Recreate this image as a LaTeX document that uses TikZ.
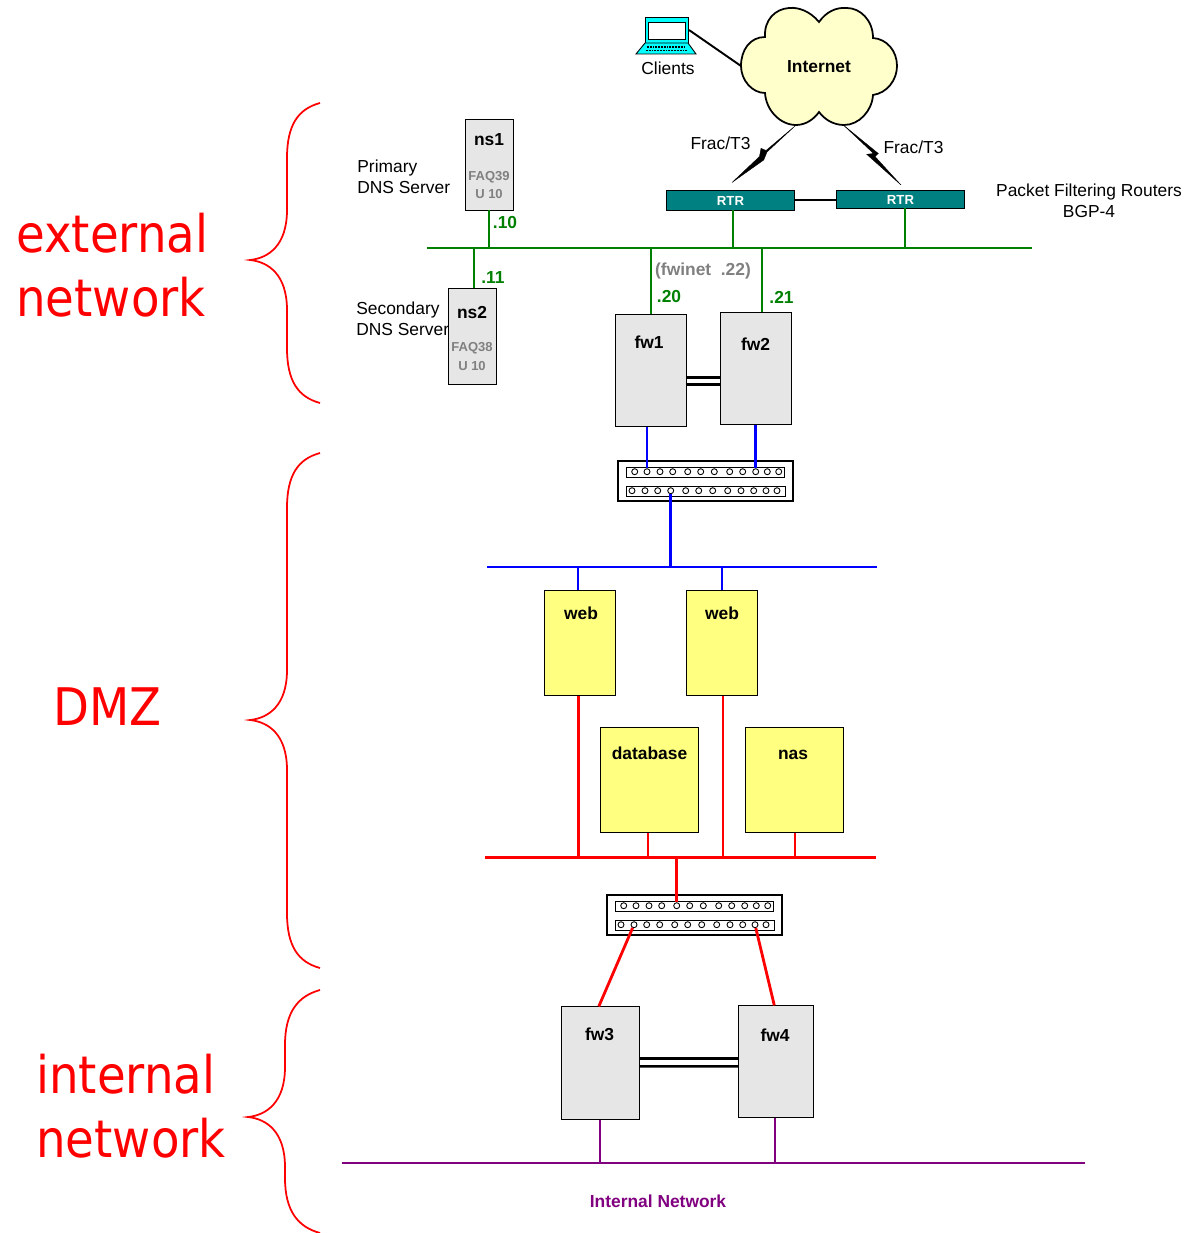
\documentclass[tikz,border=0pt]{standalone}
\usepackage{fontspec}
\setmainfont{Liberation Sans}
\newfontfamily\zonefont{DejaVu Sans Condensed}
\usetikzlibrary{calc}
\definecolor{srvgrey}{HTML}{E6E6E6}
\definecolor{hostyellow}{HTML}{FFFF80}
\definecolor{cloudyellow}{HTML}{FFFFCC}
\definecolor{rtrteal}{HTML}{008080}
\definecolor{extgreen}{HTML}{008000}
\definecolor{intpurple}{HTML}{800080}
\definecolor{laptopcyan}{HTML}{00FFFF}
\tikzset{
	txt/.style={font=\fontsize{9.9}{12}\selectfont, inner sep=0pt},
	boldtxt/.style={font=\fontsize{9.9}{12}\selectfont\bfseries, inner sep=0pt},
	greentxt/.style={boldtxt, text=extgreen},
	faqtxt/.style={font=\fontsize{7.4}{9}\selectfont\bfseries, text=black!50, inner sep=0pt},
	zonetxt/.style={font=\fontsize{29.5}{36.5}\zonefont, text=red, align=left, anchor=west, inner sep=0pt},
	srvbox/.style={draw, fill=srvgrey, line width=0.5pt, inner sep=0pt},
	hostbox/.style={draw, fill=hostyellow, line width=0.5pt, inner sep=0pt},
	rtrbox/.style={draw, fill=rtrteal, line width=0.5pt, inner sep=0pt, minimum width=2.56cm, text height=6.5pt, font=\fontsize{7.5}{9}\selectfont\bfseries, text=white},
	port/.style={circle, draw, fill=white, line width=0.5pt, inner sep=0pt, minimum size=3.4pt},
	dbllink/.style={draw=black, line width=1.4pt},
	extlink/.style={extgreen, line width=1.6pt},
	dmzlink/.style={blue, line width=1.6pt},
	srvlink/.style={red, line width=1.6pt},
	intlink/.style={intpurple, line width=1.6pt},
	brace/.style={red, line width=1pt}
}
% panel name, left and top corner
\def\patchpanel#1(#2,#3){
	\begin{scope}[shift={(#2,#3)}]
		\draw[fill=white, line width=0.6pt] (0,0) rectangle (175,40);
		\draw[fill=white, line width=0.5pt] (8,6) rectangle (166,16);
		\draw[fill=white, line width=0.5pt] (8,25) rectangle (167,35);
		\foreach \n/\x in {1/16.7,2/29,3/42,4/54.7,5/69.7,6/82.7,7/96.3,8/111.7,9/124.7,10/137.7,11/149.3,12/160.7}
			\node[port] (#1t\n) at (\x,10.7) {};
		\foreach \n/\x in {1/14,2/27,3/39.7,4/52.7,5/67.7,6/80.7,7/94.7,8/109.7,9/123,10/135.7,11/148,12/159}
			\node[port] (#1b\n) at (\x,29.7) {};
	\end{scope}
}
% tip y, top y, bottom y, spine x
\def\zonebrace(#1,#2,#3,#4){
	\draw[brace] (320,#2) .. controls (298,#2+6) and (#4,#2+22) .. (#4,#2+55)
		-- (#4,#1-50) .. controls (#4,#1-15) and (#4-18,#1-2) .. (#4-37,#1)
		.. controls (#4-18,#1+2) and (#4,#1+15) .. (#4,#1+50)
		-- (#4,#3-55) .. controls (#4,#3-22) and (298,#3-6) .. (320,#3);
}

\begin{document}
\begin{tikzpicture}[x=0.02cm, y=-0.02cm]
	%%%%% START %%%%%
	\useasboundingbox (0,0) rectangle (1186,1233);

	\zonebrace(260,103,403,287)
	\zonebrace(720,453,968,287)
	\zonebrace(1117,990,1233,285)
	\node[zonetxt] (zoneext) at (16,265) {external\\network};
	\node[zonetxt] (zonedmz) at (53,707) {DMZ};
	\node[zonetxt] (zoneint) at (36,1106) {internal\\network};

	% cloud
	\draw[fill=cloudyellow, line width=1pt] (819,22)
		.. controls (810,11) and (798,7) .. (789,8)
		.. controls (775,9) and (764,20) .. (765,37)
		.. controls (750,37) and (741,50) .. (741,66)
		.. controls (741,80) and (752,93) .. (765,93)
		.. controls (766,110) and (780,125) .. (796,125)
		.. controls (806,125) and (814,119) .. (819,112)
		.. controls (825,120) and (834,125) .. (844,125)
		.. controls (859,125) and (872,111) .. (873,95)
		.. controls (887,93) and (897,80) .. (897,66)
		.. controls (897,51) and (887,39) .. (873,38)
		.. controls (873,20) and (860,8) .. (847,8)
		.. controls (836,7) and (826,12) .. (819,22) -- cycle;
	\node[boldtxt] (internet) at (819,67) {Internet};
	\coordinate (cloudW) at (741,66);
	\coordinate (cloudSW) at (795,126);
	\coordinate (cloudSE) at (843.3,125);

	% laptop
	\draw[fill=laptopcyan, line width=0.5pt] (645,17) rectangle (688,43);
	\draw[fill=white, line width=0.5pt] (648.5,22) rectangle (685,39);
	\draw[fill=laptopcyan, line width=0.5pt] (645,43) -- (688,43) -- (696,54) -- (636,54) -- cycle;
	\draw[line width=1pt, dash pattern=on 1pt off 0.6pt] (647,47) -- (686,47);
	\draw[line width=1pt, dash pattern=on 1pt off 0.6pt] (646,50.5) -- (687,50.5);
	\coordinate (laptop) at (689,30);
	\node[txt] (clients) at (668,68) {Clients};
	\draw[line width=1.1pt] (laptop) -- (cloudW);

	% routers
	\node[rtrbox, minimum height=0.4cm] (rtr1) at (730.5,200) {RTR};
	\node[rtrbox, minimum height=0.36cm] (rtr2) at (900.5,199) {RTR};
	\draw[line width=1.1pt] (rtr1.east) -- (rtr2.west |- rtr1.east);
	\coordinate (wan1) at (732,182.5);
	\coordinate (wan2) at (901,185);
	\draw[line width=0.2pt, fill=black] (cloudSW) -- (767,152) -- (763.7,160) -- (wan1) -- (759.5,156.5) -- (761,148.3) -- (766,150.5) -- cycle;
	\draw[line width=0.2pt, fill=black] (cloudSE) -- (878.3,153.5) -- (875,156.5) -- (wan2) -- (866.7,154.3) -- (873.5,153.5) -- cycle;
	\node[txt] (frac1) at (720.5,143) {Frac/T3};
	\node[txt] (frac2) at (913.5,147) {Frac/T3};
	\node[txt, align=center] (pfr) at (1089,201) {Packet Filtering Routers\\BGP-4};

	% external segment
	\coordinate (extL) at (427,248);
	\coordinate (extR) at (1032,248);
	\draw[extlink] (extL) -- (extR);
	\coordinate (tapns2) at (474,248);
	\coordinate (tapfw1) at (651,248);
	\coordinate (tapfw2) at (762,248);
	\coordinate (taprtr1) at (733,248);
	\coordinate (taprtr2) at (905,248);

	\node[srvbox, minimum width=0.96cm, minimum height=1.82cm] (ns1) at (489,164.5) {};
	\node[boldtxt] (ns1txt) at (489,140) {ns1};
	\node[faqtxt] (ns1faq) at (489,177) {FAQ39};
	\node[faqtxt] (ns1u) at (489,194) {U 10};
	\node[srvbox, minimum width=0.96cm, minimum height=1.92cm] (ns2) at (472,336) {};
	\node[boldtxt] (ns2txt) at (472,312.5) {ns2};
	\node[faqtxt] (ns2faq) at (472,348.5) {FAQ38};
	\node[faqtxt] (ns2u) at (472,366) {U 10};
	\node[txt, align=left, anchor=west] (dns1) at (357,177) {Primary\\DNS Server};
	\node[txt, align=left, anchor=west] (dns2) at (356,318.5) {Secondary\\DNS Server};

	\node[srvbox, minimum width=1.42cm, minimum height=2.24cm] (fw1) at (651.3,370.7) {};
	\node[boldtxt] (fw1txt) at (649,342.5) {fw1};
	\node[srvbox, minimum width=1.42cm, minimum height=2.24cm] (fw2) at (755.5,368.7) {};
	\node[boldtxt] (fw2txt) at (755.5,344.5) {fw2};

	\draw[extlink] (ns1.south) -- (ns1.south |- extL);
	\draw[extlink] (tapns2) -- (tapns2 |- ns2.north);
	\draw[extlink] (tapfw1) -- (tapfw1 |- fw1.north);
	\draw[extlink] (tapfw2) -- (tapfw2 |- fw2.north);
	\draw[extlink] (taprtr1) -- (taprtr1 |- rtr1.south);
	\draw[extlink] (taprtr2) -- (taprtr2 |- rtr2.south);
	\node[greentxt] (ip10) at (505,222.5) {.10};
	\node[greentxt] (ip11) at (493,277.5) {.11};
	\node[greentxt] (ip20) at (669,296.5) {.20};
	\node[greentxt] (ip21) at (781.5,297.5) {.21};
	\node[boldtxt, text=black!50] (fwinet) at (703,271) {(fwinet\ \ .22)};

	\draw[dbllink] ($(fw1.east)+(0,7)$) -- ($(fw2.west)+(0,9)$);
	\draw[dbllink] ($(fw1.east)+(0,14)$) -- ($(fw2.west)+(0,16)$);

	% DMZ
	\patchpanel{swa}(618,461)
	\draw[dmzlink] (swat2 |- fw1.south) -- (swat2);
	\draw[dmzlink] (swat10 |- fw2.south) -- (swat10);
	\coordinate (dmzL) at (487,567);
	\coordinate (dmzR) at (877,567);
	\draw[dmzlink] (dmzL) -- (dmzR);
	\draw[dmzlink] (swab4) -- (swab4 |- dmzL);

	\node[hostbox, minimum width=1.42cm, minimum height=2.1cm] (web1) at (580.3,643.3) {};
	\node[boldtxt] (web1txt) at (581,613.5) {web};
	\node[hostbox, minimum width=1.42cm, minimum height=2.1cm] (web2) at (722,643.3) {};
	\node[boldtxt] (web2txt) at (722,613.5) {web};
	\node[hostbox, minimum width=1.96cm, minimum height=2.1cm] (database) at (649.8,780.3) {};
	\node[boldtxt] (databasetxt) at (649.5,753.5) {database};
	\node[hostbox, minimum width=1.96cm, minimum height=2.1cm] (nas) at (794.8,780.3) {};
	\node[boldtxt] (nastxt) at (793,755) {nas};

	\coordinate (tapweb1) at (578,567);
	\coordinate (tapweb2) at (722,567);
	\draw[dmzlink] (tapweb1) -- (tapweb1 |- web1.north);
	\draw[dmzlink] (tapweb2) -- (tapweb2 |- web2.north);

	\coordinate (srvL) at (485,857.5);
	\coordinate (srvR) at (876,857.5);
	\draw[srvlink] (srvL) -- (srvR);
	\coordinate (tapred1) at (578.5,857.5);
	\coordinate (tapred2) at (723,857.5);
	\coordinate (tapred3) at (648,857.5);
	\coordinate (tapred4) at (795,857.5);
	\draw[srvlink] (tapred1 |- web1.south) -- (tapred1);
	\draw[srvlink] (tapred2 |- web2.south) -- (tapred2);
	\draw[srvlink] (tapred3 |- database.south) -- (tapred3);
	\draw[srvlink] (tapred4 |- nas.south) -- (tapred4);

	\patchpanel{swb}(607,895)
	\draw[srvlink] (swbt5 |- srvL) -- (swbt5);

	% internal side
	\node[srvbox, minimum width=1.56cm, minimum height=2.26cm] (fw3) at (600.8,1063.3) {};
	\node[boldtxt] (fw3txt) at (599.5,1034.5) {fw3};
	\node[srvbox, minimum width=1.5cm, minimum height=2.24cm] (fw4) at (776.3,1061.8) {};
	\node[boldtxt] (fw4txt) at (775,1035.5) {fw4};
	\draw[srvlink] (swbb2) -- ($(fw3.north)+(-2,0)$);
	\draw[srvlink] (swbb11) -- ($(fw4.north)+(-2,0)$);
	\draw[dbllink] ($(fw3.east)+(0,-5)$) -- ($(fw4.west)+(0,-3.5)$);
	\draw[dbllink] ($(fw3.east)+(0,3)$) -- ($(fw4.west)+(0,4.5)$);

	\coordinate (intL) at (342,1163);
	\coordinate (intR) at (1085,1163);
	\draw[intlink] (intL) -- (intR);
	\coordinate (tapfw3) at (600,1163);
	\coordinate (tapfw4) at (775,1163);
	\draw[intlink] (tapfw3 |- fw3.south) -- (tapfw3);
	\draw[intlink] (tapfw4 |- fw4.south) -- (tapfw4);
	\node[boldtxt, text=intpurple] (intnet) at (658,1201.5) {Internal Network};
	%%%%% END %%%%%
\end{tikzpicture}
\end{document}
